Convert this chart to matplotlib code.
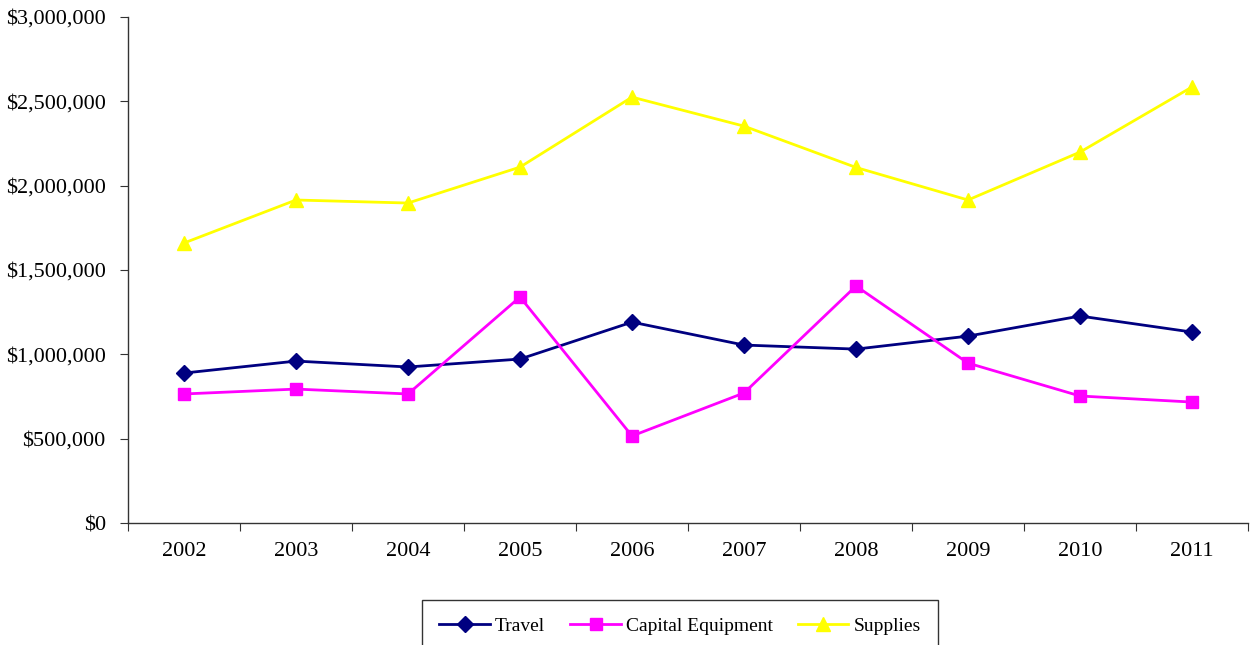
import matplotlib
matplotlib.use("Agg")
import matplotlib.pyplot as plt
from matplotlib.ticker import FuncFormatter, FixedLocator
import numpy as np

years = ["2002", "2003", "2004", "2005", "2006", "2007", "2008", "2009", "2010", "2011"]
travel = [889000, 960000, 925000, 972000, 1191000, 1055000, 1031000, 1108000, 1227000, 1132000]
capital_equipment = [765000, 794000, 765000, 1340000, 516000, 771000, 1405000, 948000, 753000, 717000]
supplies = [1660000, 1915000, 1897000, 2110000, 2525000, 2353000, 2108000, 1915000, 2199000, 2585000]

plt.rcParams['font.family'] = ['Liberation Serif', 'DejaVu Serif']

fig = plt.figure(figsize=(12.54, 6.45), dpi=100)
ax = fig.add_axes([128/1254, 1 - 523/645, (1248-128)/1254, (523-17)/645])

x = np.arange(len(years))
ax.plot(x, travel, color='#000080', lw=2, marker='D', ms=8, label='Travel')
ax.plot(x, capital_equipment, color='#FF00FF', lw=2, marker='s', ms=9, label='Capital Equipment')
ax.plot(x, supplies, color='#FFFF00', lw=2, marker='^', ms=9.5, label='Supplies')

ax.set_xlim(-0.5, len(years) - 0.5)
ax.set_ylim(0, 3000000)
ax.set_yticks(np.arange(0, 3000001, 500000))
ax.yaxis.set_major_formatter(FuncFormatter(lambda v, p: "${:,.0f}".format(v)))
ax.xaxis.set_major_locator(FixedLocator(np.arange(-0.5, len(years), 1.0)))
ax.set_xticklabels([])
ax.set_xticks(x, minor=True)
ax.set_xticklabels(years, minor=True)
ax.tick_params(axis='x', which='major', length=6, direction='out', color='#333333')
ax.tick_params(axis='x', which='minor', length=0, pad=14, labelsize=16)
ax.tick_params(axis='y', length=6, direction='out', color='#333333', labelsize=16, pad=10)

for s in ['top', 'right']:
    ax.spines[s].set_visible(False)
for s in ['left', 'bottom']:
    ax.spines[s].set_color('#333333')
    ax.spines[s].set_linewidth(1)

leg = fig.legend(loc='upper center', bbox_to_anchor=(680/1254, 1 - 600/645), ncol=3,
                 frameon=True, fancybox=False, edgecolor='black', fontsize=14,
                 handlelength=2.6, columnspacing=1.3, borderpad=0.9, handletextpad=0.25,
                 borderaxespad=0)
leg.get_frame().set_linewidth(1)

fig.savefig("out.png", dpi=100)
